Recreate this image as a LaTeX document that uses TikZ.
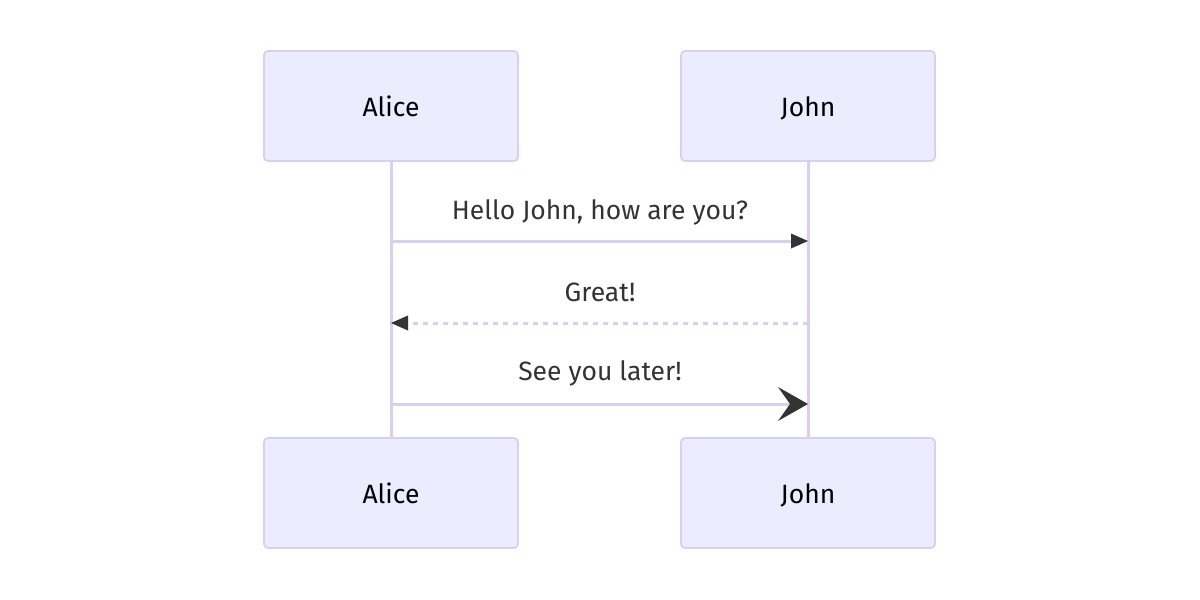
\documentclass[tikz,border=0pt]{standalone}
\usepackage{fontspec}
\setmainfont{Fira Sans}
\usetikzlibrary{arrows.meta}

\definecolor{actfill}{HTML}{ECECFF}
\definecolor{actline}{HTML}{D9CFF5}
\definecolor{msgtext}{HTML}{333333}

\tikzset{
  actor/.style={draw=actline, fill=actfill, line width=1.8pt, rounded corners=4pt,
    minimum width=254pt, minimum height=110pt, text height=20pt, text depth=0pt,
    font=\fontsize{26.5}{32}\selectfont, text=black},
  lifeline/.style={draw=actline, line width=3pt},
  msg/.style={draw=actline, line width=3pt},
  msglabel/.style={font=\fontsize{26.5}{32}\selectfont, text=msgtext}
}

\begin{document}
\begin{tikzpicture}[x=1pt,y=-1pt]
\useasboundingbox (0,0) rectangle (1200,600);

\draw [lifeline] (391,161) -- (391,437); \draw [lifeline] (808,161) -- (808,437);

\node [actor] (alicetop) at (391,106) {Alice}; \node [actor] (johntop) at (808,106) {John};
\node [actor] (alicebot) at (391,493) {Alice}; \node [actor] (johnbot) at (808,493) {John};

\coordinate (a1) at (391,241); \coordinate (j1) at (808,241);
\coordinate (a2) at (391,323); \coordinate (j2) at (808,323);
\coordinate (a3) at (391,404); \coordinate (j3) at (808,404);

\node [msglabel] (hello) at (600,212) {Hello John, how are you?};
\draw [msg,-{Triangle[length=17pt,width=15pt,line width=0pt,fill=msgtext,color=msgtext]}] (a1) -- (j1);

\node [msglabel] (great) at (600,292) {Great!};
\draw [msg,dash pattern=on 5pt off 5pt,-{Triangle[length=17pt,width=15pt,line width=0pt,fill=msgtext,color=msgtext]}] (j2) -- (a2);

\node [msglabel] (later) at (600,373) {See you later!};
\draw [msg,-{Stealth[length=30pt,width=34pt,inset=12pt,line width=0pt,fill=msgtext,color=msgtext]}] (a3) -- (j3);

\end{tikzpicture}
\end{document}
